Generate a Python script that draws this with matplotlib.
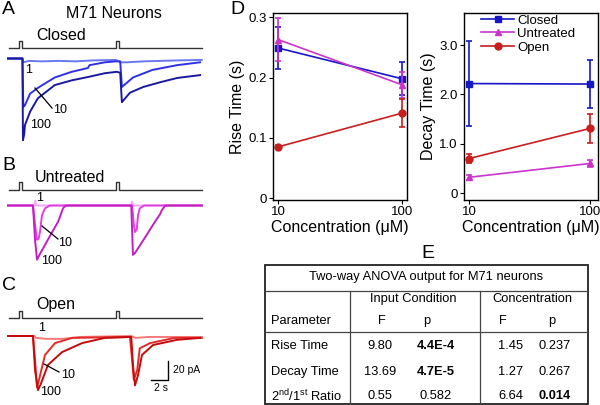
import matplotlib
matplotlib.use('Agg')
import matplotlib.pyplot as plt
from matplotlib.patches import Rectangle
from matplotlib.ticker import NullLocator

plt.rcParams['font.family'] = ['Liberation Sans', 'DejaVu Sans']
plt.rcParams['mathtext.fontset'] = 'custom'
plt.rcParams['mathtext.rm'] = 'Liberation Sans'
plt.rcParams['mathtext.bf'] = 'Liberation Sans:bold'

# ---- data: panel A-C traces (time s, current pA) ----
stim_t = [0.12, 1.3, 1.3, 1.65, 1.65, 12.7, 12.7, 13.06, 13.06, 22.8]
stim_on = [0, 0, 1, 1, 0, 0, 1, 1, 0, 0]

a1_t = [0, 1.7, 1.8, 2.5, 4, 6, 8, 10, 12.7, 13.2, 14, 16, 18, 20, 22.8]
a1_i = [0, 0, -4, -2.5, -3, -2.5, -3, -2, -1.5, -4, -4, -3, -2.5, -2, -1.5]
a10_t = [0, 1.7, 1.8, 2.0, 2.6, 3.5, 5.5, 7.5, 9.4, 9.6, 11.4, 12.7, 13.2, 13.4, 14.7, 17.0, 19.9, 22.6]
a10_i = [0, 0, -51, -49, -37, -31, -20, -14, -10, -7, -4, -3, -3, -30, -20, -12, -7, -4]
a100_t = [0, 1.7, 1.76, 1.9, 2.0, 2.6, 3.5, 5.5, 7.5, 9.4, 11.4, 12.8, 13.2, 13.4, 14.35, 15.9, 17.9, 19.9, 22.6]
a100_i = [0, 0, -86, -80, -70, -56, -42, -28, -23, -19.5, -15.5, -14, -15, -46, -36, -30, -25, -20.5, -17.5]

b1_t = [0, 3.1, 3.2, 3.3, 14.5, 14.6, 14.7, 22.8]
b1_i = [0, 0, 5, 0, 0, 4, 0, 0]
b10_t = [0, 2.94, 3.18, 3.41, 3.6, 3.76, 4.0, 4.35, 4.94, 14.6, 14.8, 14.94, 15.15, 15.3, 15.5, 16.0, 22.8]
b10_i = [0, 0, -20, -36, -35, -28, -10, -3, 0, 0, -20, -28, -25, -10, -3, 0, 0]
b100_t = [0, 2.94, 3.18, 3.41, 3.76, 4.94, 5.9, 6.47, 6.8, 14.5, 14.7, 14.94, 16.1, 17.3, 17.9, 18.1, 18.5, 22.8]
b100_i = [0, 0, -36, -57, -51, -32, -17, -3, 0, 0, -52, -50, -34, -17, -9, -5, 0, 0]

c1_t = [0, 3.1, 3.3, 4.5, 6.5, 8.5, 14.5, 15, 16.5, 22.8]
c1_i = [0, 0, -2, -3, -3, -1, 0, -2, -1, -1]
c10_t = [0, 2.94, 3.18, 3.41, 3.65, 4.35, 5.53, 7.53, 14.35, 14.6, 14.8, 15.2, 15.5, 16.7, 19.6, 22.8]
c10_i = [0, 0, -25, -54, -46, -20, -7.5, -2, -1, -25, -46, -36, -13, -7.5, -2, -2]
c100_t = [0, 2.94, 3.18, 3.53, 3.88, 4.7, 6.35, 8.7, 11.4, 14.5, 14.7, 14.94, 15.3, 15.76, 17.06, 19.9, 22.6]
c100_i = [0, 0, -36, -57, -50, -30.5, -17, -7.5, -2, -1, -30, -52, -41, -20, -9.5, -4, -2]

scale_s = 2    # s
scale_pa = 20  # pA

# ---- data: panel D ----
conc = [10, 100]
rise_closed = [0.249, 0.198]
rise_closed_err = [0.035, 0.027]
rise_untreated = [0.263, 0.188]
rise_untreated_err = [0.036, 0.022]
rise_open = [0.085, 0.141]
rise_open_err = [0.004, 0.023]
decay_closed = [2.22, 2.21]
decay_closed_err = [0.87, 0.48]
decay_untreated = [0.32, 0.60]
decay_untreated_err = [0.05, 0.07]
decay_open = [0.70, 1.31]
decay_open_err = [0.09, 0.29]

# ---- data: panel E ----
params = ['Rise Time', 'Decay Time', '2$^{\\rm nd}$/1$^{\\rm st}$ Ratio']
input_F = ['9.80', '13.69', '0.55']
input_p = ['4.4E-4', '4.7E-5', '0.582']
conc_F = ['1.45', '1.27', '6.64']
conc_p = ['0.237', '0.267', '0.014']

W, H = 600, 405
fig = plt.figure(figsize=(W / 100, H / 100), dpi=100)


def box(x0, y0, x1, y1):
    return [x0 / W, 1 - y1 / H, (x1 - x0) / W, (y1 - y0) / H]


PX_S = 8.5    # pixels per second
PX_PA = 0.95  # pixels per pA
T0_PX = 8


def trace_axes(top, bottom, base):
    ax = fig.add_axes(box(0, top, 210, bottom))
    ax.set_xlim(-T0_PX / PX_S, (210 - T0_PX) / PX_S)
    ax.set_ylim(-(bottom - base) / PX_PA, (base - top) / PX_PA)
    ax.axis('off')
    return ax


def draw_panel(ax, traces, colors, stim_off, stim_h):
    ax.plot(stim_t, [stim_off + stim_h * s for s in stim_on], color='#333333', lw=1.0)
    for (t, i), c in zip(traces, colors):
        ax.plot(t, i, color=c, lw=1.4, solid_joinstyle='round')


ax_a = trace_axes(36, 148, 58.5)
draw_panel(ax_a, [(a1_t, a1_i), (a10_t, a10_i), (a100_t, a100_i)],
           ['#6a78f0', '#3030e6', '#1a1aa0'], 10.7, 7.7)
ax_b = trace_axes(176, 268, 205.5)
draw_panel(ax_b, [(b1_t, b1_i), (b10_t, b10_i), (b100_t, b100_i)],
           ['#f3a6f3', '#e040e0', '#c020c0'], 16.3, 8.4)
ax_c = trace_axes(305, 400, 336)
draw_panel(ax_c, [(c1_t, c1_i), (c10_t, c10_i), (c100_t, c100_i)],
           ['#f47a7a', '#e42a2a', '#c40c0c'], 18.9, 7.4)

# scale bar
sb_t, sb_i = 18.8, -46.3
ax_c.plot([sb_t - scale_s, sb_t, sb_t], [sb_i, sb_i, sb_i + scale_pa], color='black', lw=1.0)

# ---- panel D ----
series_style = [('Closed', '#1616c8', 's'), ('Untreated', '#cc33cc', '^'), ('Open', '#c81e1e', 'o')]


def conc_axes(x0, x1, xlim, ylim, yticks, ylabels, ylabel, vals, errs, legend=False):
    ax = fig.add_axes(box(x0, 13, x1, 200))
    ax.set_xscale('log')
    for (name, c, m), v, e in zip(series_style, vals, errs):
        ax.errorbar(conc, v, yerr=e, fmt='none', ecolor=c, elinewidth=1.2, capsize=2, capthick=1.2)
        ax.plot(conc, v, color=c, marker=m, ms=5, lw=1.2, label=name)
    ax.set_xlim(xlim)
    ax.set_ylim(ylim)
    ax.set_xticks(conc)
    ax.set_xticklabels(['10', '100'])
    ax.xaxis.set_minor_locator(NullLocator())
    ax.set_yticks(yticks)
    ax.set_yticklabels(ylabels)
    ax.tick_params(direction='out', length=3, width=0.8, labelsize=9.5, pad=1.5)
    for s in ax.spines.values():
        s.set_linewidth(1.0)
    ax.set_ylabel(ylabel, fontsize=11.5, labelpad=2)
    ax.set_xlabel('Concentration (μM)', fontsize=11.5, labelpad=1)
    if legend:
        ax.legend(loc='upper left', bbox_to_anchor=(0.12, 1.0), frameon=False, fontsize=9.5,
                  handlelength=2.5, handletextpad=0.2, labelspacing=0.1, borderpad=0.1,
                  borderaxespad=0)
    return ax


conc_axes(273, 407, (9.11, 109.7), (-0.003, 0.307), [0, 0.1, 0.2, 0.3],
          ['0', '0.1', '0.2', '0.3'], 'Rise Time (s)',
          [rise_closed, rise_untreated, rise_open],
          [rise_closed_err, rise_untreated_err, rise_open_err])
conc_axes(464, 598, (9.09, 116.5), (-0.14, 3.65), [0, 1, 2, 3],
          ['0', '1.0', '2.0', '3.0'], 'Decay Time (s)',
          [decay_closed, decay_untreated, decay_open],
          [decay_closed_err, decay_untreated_err, decay_open_err], legend=True)

# ---- annotation overlay in pixel coordinates ----
ann = fig.add_axes([0, 0, 1, 1])
ann.set_xlim(0, W)
ann.set_ylim(H, 0)
ann.axis('off')
ann.patch.set_alpha(0)


def txt(x, y, s, size, ha='left', **kw):
    ann.text(x, y, s, fontsize=size, ha=ha, va='center', **kw)


for lab, (x, y) in zip('ABCDE', [(2, 10), (2, 166), (2, 285), (230, 9), (421, 254)]):
    txt(x, y, lab, 14)
txt(114, 14, 'M71 Neurons', 11.5, ha='center')
txt(36, 36, 'Closed', 11.5)
txt(35, 177, 'Untreated', 11.5)
txt(36, 305, 'Open', 11.5)

# trace concentration labels and leaders
for (x, y, s) in [(25, 70, '1'), (53, 110, '10'), (30, 125, '100'),
                  (36, 198, '1'), (58, 243, '10'), (41, 261, '100'),
                  (38, 328, '1'), (61, 375, '10'), (40, 392, '100')]:
    txt(x, y, s, 9)
for (x0, y0, x1, y1) in [(35, 88, 52, 108), (42, 226, 58, 239), (44, 364, 59, 372)]:
    ann.plot([x0, x1], [y0, y1], color='black', lw=0.9)
txt(173, 370, '20 pA', 7.5)
txt(161, 388, '2 s', 7.5, ha='center')

# ---- panel E table ----
ann.add_patch(Rectangle((265, 265), 323, 139, fill=False, lw=1.3, ec='#222222'))
for y in [291, 332]:
    ann.plot([265, 588], [y, y], color='#444444', lw=0.9)
for x in [350, 480]:
    ann.plot([x, x], [291, 404], color='#444444', lw=0.9)

fs = 9.3
txt(426, 277, 'Two-way ANOVA output for M71 neurons', fs, ha='center')
txt(413, 299, 'Input Condition', fs, ha='center')
txt(532, 299, 'Concentration', fs, ha='center')
txt(271, 321, 'Parameter', fs)
for x, s in zip([382, 427, 503, 552], ['F', 'p', 'F', 'p']):
    txt(x, 321, s, fs, ha='center')

rows_y = [346, 372, 396]
for y, name, f1, p1, f2, p2 in zip(rows_y, params, input_F, input_p, conc_F, conc_p):
    txt(271, y, name, fs)
    txt(380, y, f1, fs, ha='center')
    txt(436, y, p1, fs, ha='center', weight='bold' if float(p1) < 0.05 else 'normal')
    txt(511, y, f2, fs, ha='center')
    txt(555, y, p2, fs, ha='center', weight='bold' if float(p2) < 0.05 else 'normal')

fig.savefig('out.png', dpi=100)
